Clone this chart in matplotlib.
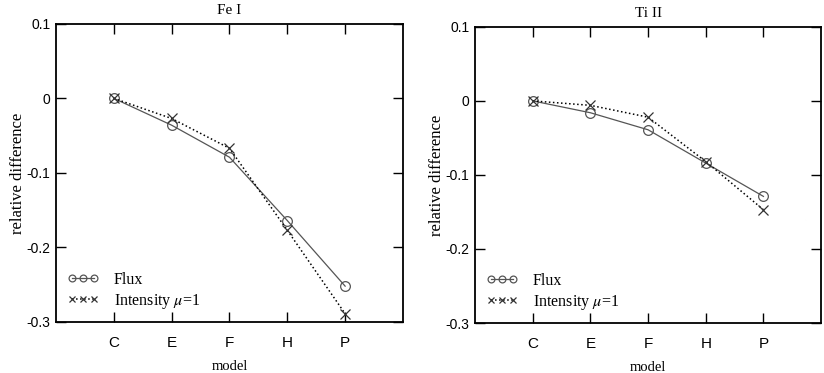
import matplotlib
matplotlib.use('Agg')
import matplotlib.pyplot as plt

models = ['C', 'E', 'F', 'H', 'P']
fe_flux = [0.0, -0.036, -0.079, -0.164, -0.252]
fe_int = [0.0, -0.027, -0.067, -0.177, -0.289]
ti_flux = [0.0, -0.016, -0.039, -0.084, -0.129]
ti_int = [0.0, -0.006, -0.022, -0.082, -0.147]
yticks = [0.1, 0, -0.1, -0.2, -0.3]

plt.rcParams['mathtext.fontset'] = 'stix'
serif = ['Liberation Serif', 'DejaVu Serif']
narrow = ['Liberation Sans Narrow', 'Liberation Sans', 'DejaVu Sans']

fig = plt.figure(figsize=(8.24, 3.73), dpi=100)
ax1 = fig.add_axes([0.068, 0.137, 0.421, 0.799])
ax2 = fig.add_axes([0.5765, 0.134, 0.42, 0.794])

x = list(range(1, len(models) + 1))

for ax, flux, inten, title in [(ax1, fe_flux, fe_int, 'Fe I'), (ax2, ti_flux, ti_int, 'Ti II')]:
    ax.plot(x, flux, '-', color='#555555', lw=0.9, marker='o', ms=7,
            mfc='none', mec='#555555', mew=0.9, label='Flux')
    ax.plot(x, inten, ':', color='black', lw=1.1, marker='x', ms=7,
            mec='#333333', mew=0.9, label=r'Intensity $\mu$=1')
    ax.set_xlim(0, 6)
    ax.set_ylim(-0.3, 0.1)
    ax.set_xticks(x)
    ax.set_xticklabels(models, family=narrow, fontsize=11)
    ax.set_yticks(yticks)
    ax.set_yticklabels(['0.1', '0', '-0.1', '-0.2', '-0.3'], family=narrow, fontsize=10)
    ax.tick_params(direction='in', top=True, right=True, length=7, width=1)
    ax.tick_params(axis='x', pad=10)
    ax.tick_params(axis='y', pad=4)
    for s in ax.spines.values():
        s.set_linewidth(1.3)
    ax.set_title(title, family=serif, fontsize=11, pad=7)
    ax.set_xlabel('model', family=serif, fontsize=10.5, labelpad=7)
    ax.set_ylabel('relative difference', family=serif, fontsize=12, labelpad=0)
    ax.legend(loc='lower left', numpoints=3, frameon=False, prop={'family': serif, 'size': 11.5},
              handlelength=2.0, handletextpad=0.9, labelspacing=0.25, markerscale=0.7,
              borderaxespad=0.3, bbox_to_anchor=(0.0, 0.0))

fig.savefig('out.png', dpi=100)
